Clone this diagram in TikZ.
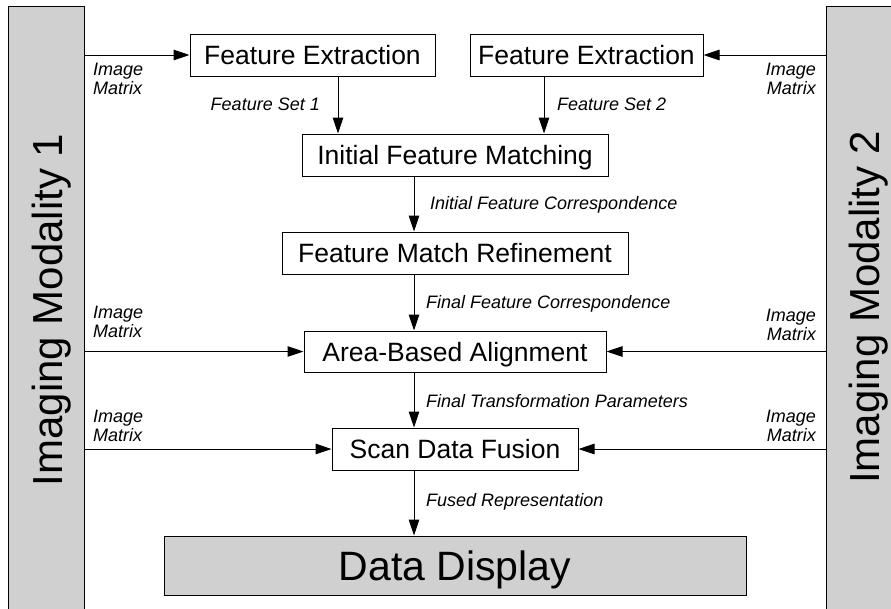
\documentclass[tikz,border=0pt]{standalone}
\usepackage{fontspec}
\setmainfont{Liberation Sans}
\usetikzlibrary{arrows.meta}
\definecolor{bargray}{RGB}{208,208,208}
\begin{document}
\begin{tikzpicture}[x=1pt,y=-1pt,
  stage/.style={draw=black, line width=1pt, fill=white, inner sep=0pt,
    text height=19pt, text depth=0pt, font=\fontsize{26.5}{30}\selectfont},
  lbl/.style={inner sep=0pt, font=\fontsize{18}{19}\selectfont\itshape},
  pair/.style={lbl, align=left},
  pairr/.style={lbl, align=right},
  flow/.style={line width=1pt, -{Triangle[length=16pt,width=10.5pt]}},
  modality/.style={draw=black, line width=1pt, fill=bargray, inner sep=0pt,
    minimum width=76pt, minimum height=610pt},
  bartext/.style={rotate=90, anchor=base, inner sep=0pt,
    font=\fontsize{42}{46}\selectfont},
]
\path[use as bounding box] (0,0) rectangle (891,608);
\clip (0,0) rectangle (891,608);

% modality bars on both sides
\node[modality] (bar1) at (46,311) {};
\node[modality] (bar2) at (864,311) {};
\node[bartext] (bar1txt) at (62,310) {Imaging Modality 1};
\node[bartext] (bar2txt) at (879,307.5) {Imaging Modality 2};

% processing stages
\node[stage, minimum width=245pt, minimum height=42pt] (fe1) at (312.5,55) {Feature Extraction};
\node[stage, minimum width=233pt, minimum height=42pt] (fe2) at (586.5,55) {Feature Extraction};
\node[stage, minimum width=306pt, minimum height=42pt] (ifm) at (455,155) {Initial Feature Matching};
\node[stage, minimum width=346pt, minimum height=42pt] (fmr) at (455,253) {Feature Match Refinement};
\node[stage, minimum width=302pt, minimum height=41pt] (aba) at (455,351.5) {Area-Based Alignment};
\node[stage, minimum width=246pt, minimum height=42pt] (sdf) at (455,449) {Scan Data Fusion};
\node[stage, fill=bargray, minimum width=582pt, minimum height=59pt,
  text height=29pt, font=\fontsize{41}{46}\selectfont] (dd) at (455,565.5) {Data Display};

% columns of the vertical connectors
\coordinate (c1) at (338,0);
\coordinate (c2) at (544,0);
\coordinate (axis) at (414,0);

% connectors
\draw[flow] (bar1.east |- fe1.west) -- (fe1.west);
\draw[flow] (bar2.west |- fe2.east) -- (fe2.east);
\draw[flow] (fe1.south -| c1) -- (ifm.north -| c1);
\draw[flow] (fe2.south -| c2) -- (ifm.north -| c2);
\draw[flow] (ifm.south -| axis) -- (fmr.north -| axis);
\draw[flow] (fmr.south -| axis) -- (aba.north -| axis);
\draw[flow] (bar1.east |- aba.west) -- (aba.west);
\draw[flow] (bar2.west |- aba.east) -- (aba.east);
\draw[flow] (aba.south -| axis) -- (sdf.north -| axis);
\draw[flow] (bar1.east |- sdf.west) -- (sdf.west);
\draw[flow] (bar2.west |- sdf.east) -- (sdf.east);
\draw[flow] (sdf.south -| axis) -- (dd.north -| axis);

% connector labels
\node[pair, anchor=west] (im1) at (93,78.5) {Image\\Matrix};
\node[pairr, anchor=east] (im2) at (816,78.5) {Image\\Matrix};
\node[lbl, anchor=base east] (fs1) at (320,110) {Feature Set 1};
\node[lbl, anchor=base west] (fs2) at (557,110) {Feature Set 2};
\node[lbl, anchor=base west] (ifc) at (430,209) {Initial Feature Correspondence};
\node[lbl, anchor=base west] (ffc) at (426,308) {Final Feature Correspondence};
\node[pair, anchor=west] (im3) at (93,321.5) {Image\\Matrix};
\node[pairr, anchor=east] (im4) at (816,324.5) {Image\\Matrix};
\node[lbl, anchor=base west] (ftp) at (426,407) {Final Transformation Parameters};
\node[pair, anchor=west] (im5) at (93,426) {Image\\Matrix};
\node[pairr, anchor=east] (im6) at (816,426) {Image\\Matrix};
\node[lbl, anchor=base west] (fr) at (426,506) {Fused Representation};
\end{tikzpicture}
\end{document}
